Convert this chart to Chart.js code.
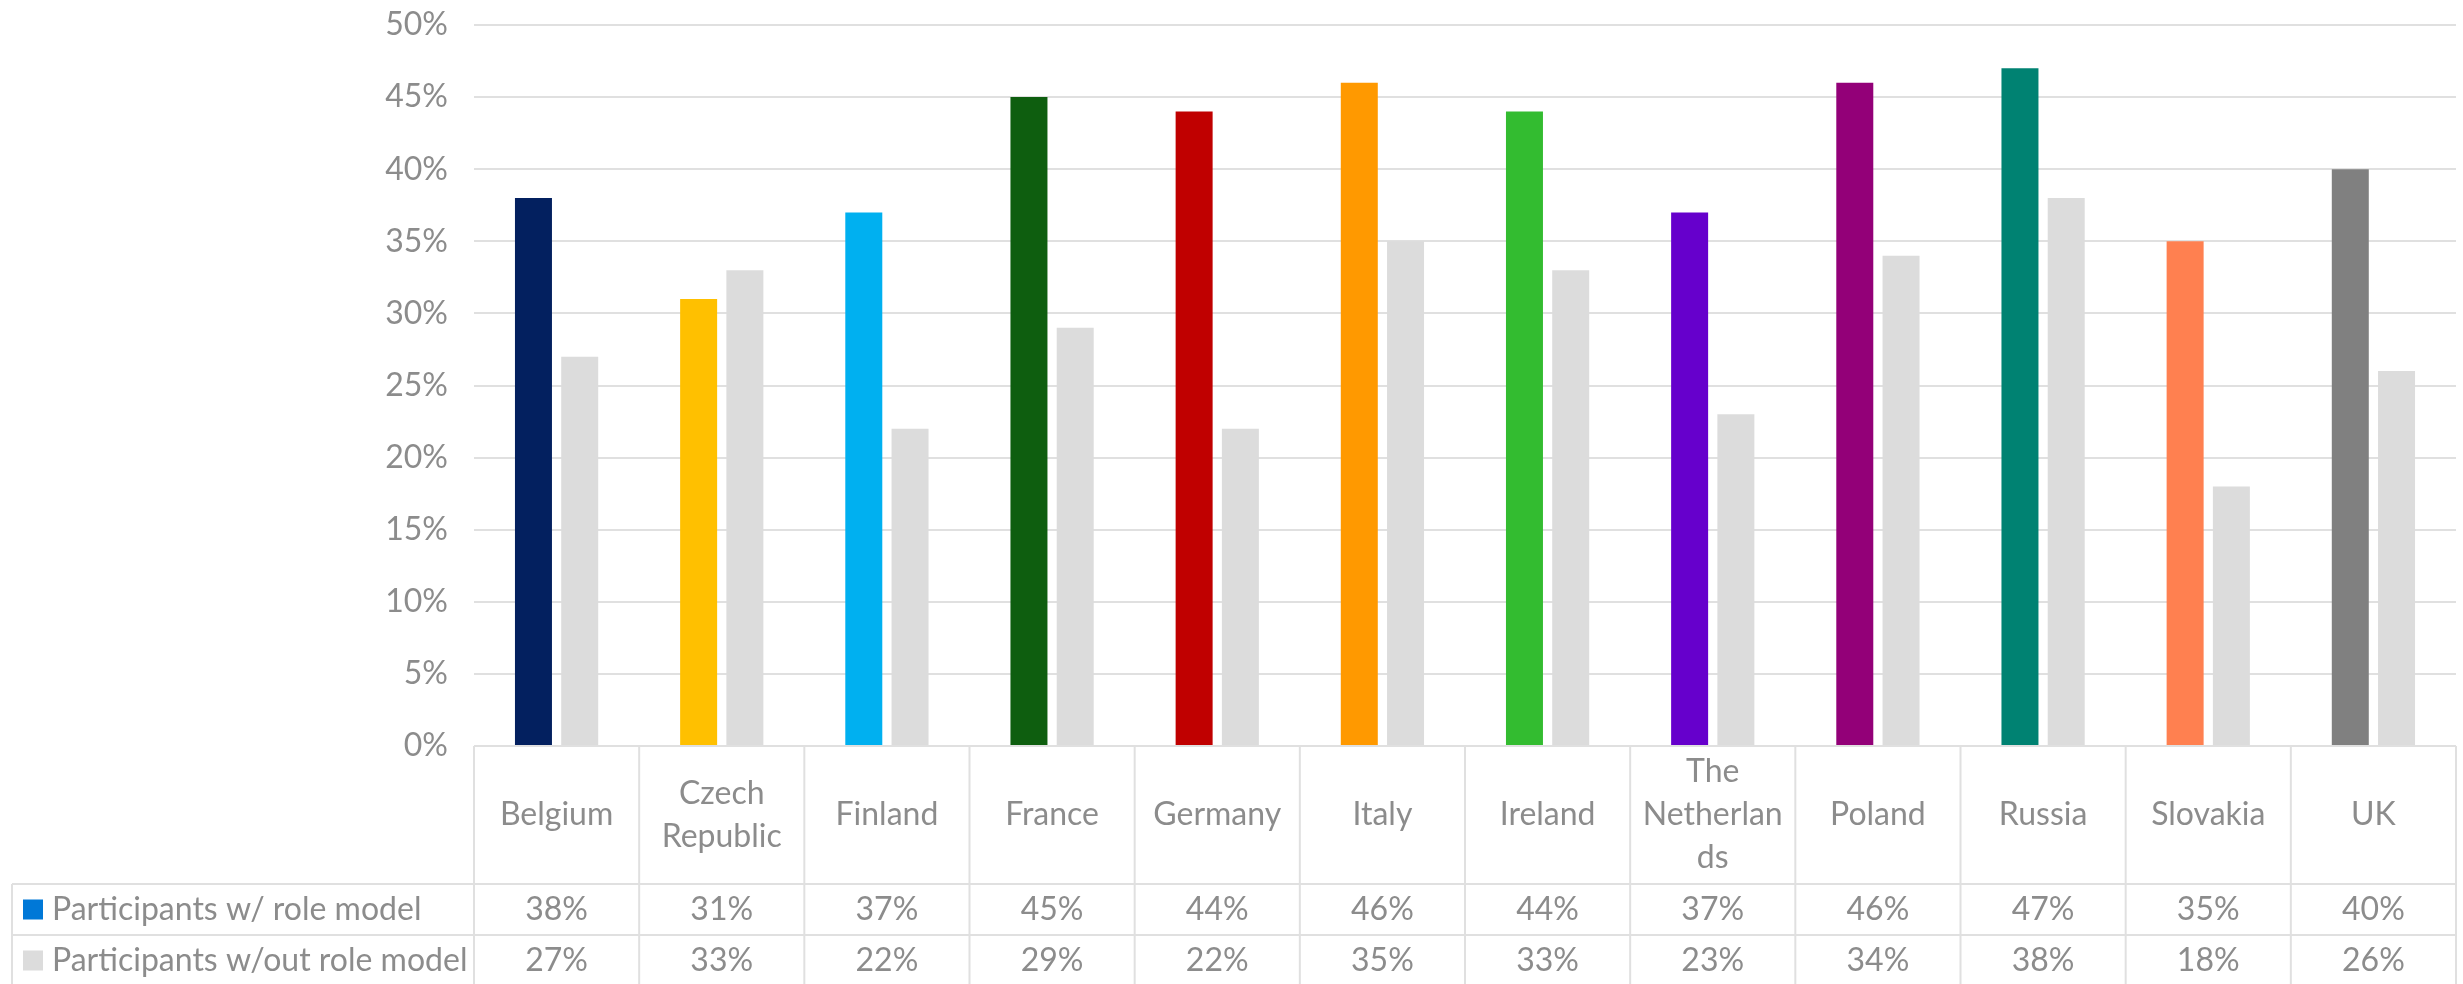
<!DOCTYPE html>
<html>
<head>
<meta charset="utf-8">
<script src="https://cdn.jsdelivr.net/npm/chart.js@4.4.0/dist/chart.umd.min.js"></script>
<style>
  html, body { margin: 0; padding: 0; background: #fff; }
  #wrap { width: 2463px; height: 984px; }
</style>
</head>
<body>
<div id="wrap"><canvas id="roleChart"></canvas></div>
<script>
// data
var countries = ['Belgium', ['Czech', 'Republic'], 'Finland', 'France', 'Germany', 'Italy',
	'Ireland', ['The', 'Netherlan', 'ds'], 'Poland', 'Russia', 'Slovakia', 'UK'];
var withRoleModel = [38, 31, 37, 45, 44, 46, 44, 37, 46, 47, 35, 40];
var withoutRoleModel = [27, 33, 22, 29, 22, 35, 33, 23, 34, 38, 18, 26];
var seriesNames = ['Participants w/ role model', 'Participants w/out role model'];
var yTicks = [0, 5, 10, 15, 20, 25, 30, 35, 40, 45, 50];

var countryColors = ['#03205F', '#FFC000', '#00B0F0', '#0E5E0F', '#C00000', '#FF9900',
	'#33BC30', '#6600CC', '#930078', '#008272', '#FF8050', '#808080'];
var legendColors = ['#0078D7', '#DCDCDC'];
var greyBar = '#DCDCDC';
var lineCol = '#E0E0E0';
var textCol = '#8C8C8C';
var fontFam = "Lato, 'Open Sans', sans-serif";
var fontSize = 32;

// table under the plot (Excel style data table)
var tablePlugin = {
	id: 'dataTable',
	afterDraw: function(chart) {
		var ctx = chart.ctx;
		var area = chart.chartArea;
		var x = chart.scales.x;
		var n = countries.length;
		var colW = (area.right - area.left) / n;
		var top = area.bottom;
		var catBottom = top + 138;
		var row1Bottom = catBottom + 51;
		var row2Bottom = row1Bottom + 51;
		var tableLeft = 12;

		ctx.save();
		ctx.strokeStyle = lineCol;
		ctx.lineWidth = 2;
		ctx.beginPath();
		// horizontal lines
		ctx.moveTo(area.left, top); ctx.lineTo(area.right, top);
		ctx.moveTo(tableLeft, catBottom); ctx.lineTo(area.right, catBottom);
		ctx.moveTo(tableLeft, row1Bottom); ctx.lineTo(area.right, row1Bottom);
		ctx.moveTo(tableLeft, row2Bottom); ctx.lineTo(area.right, row2Bottom);
		// vertical lines
		ctx.moveTo(tableLeft, catBottom); ctx.lineTo(tableLeft, row2Bottom);
		for (var i = 0; i <= n; i++) {
			var bx = (i < n) ? x.getPixelForValue(i) - colW / 2 : x.getPixelForValue(n - 1) + colW / 2;
			ctx.moveTo(bx, top); ctx.lineTo(bx, row2Bottom);
		}
		ctx.stroke();

		ctx.fillStyle = textCol;
		ctx.font = fontSize + 'px ' + fontFam;
		ctx.textAlign = 'center';
		ctx.textBaseline = 'middle';
		var lineH = 43;
		for (var i = 0; i < n; i++) {
			var cx = x.getPixelForValue(i);
			var lbl = Array.isArray(countries[i]) ? countries[i] : [countries[i]];
			var cy = (top + catBottom) / 2 - (lbl.length - 1) * lineH / 2;
			for (var j = 0; j < lbl.length; j++) {
				ctx.fillText(lbl[j], cx, cy + j * lineH);
			}
			ctx.fillText(withRoleModel[i] + '%', cx, (catBottom + row1Bottom) / 2);
			ctx.fillText(withoutRoleModel[i] + '%', cx, (row1Bottom + row2Bottom) / 2);
		}

		// legend keys inside the table
		ctx.textAlign = 'left';
		var rows = [(catBottom + row1Bottom) / 2, (row1Bottom + row2Bottom) / 2];
		for (var k = 0; k < 2; k++) {
			ctx.fillStyle = legendColors[k];
			ctx.fillRect(23, rows[k] - 10, 20, 20);
			ctx.fillStyle = textCol;
			ctx.fillText(seriesNames[k], 52, rows[k]);
		}
		ctx.restore();
	}
};

var ctx = document.getElementById('roleChart').getContext('2d');
var chart = new Chart(ctx, {
	type: 'bar',
	data: {
		labels: countries,
		datasets: [{
			label: seriesNames[0],
			data: withRoleModel,
			backgroundColor: countryColors,
			categoryPercentage: 0.56,
			barPercentage: 0.8
		}, {
			label: seriesNames[1],
			data: withoutRoleModel,
			backgroundColor: greyBar,
			categoryPercentage: 0.56,
			barPercentage: 0.8
		}]
	},
	options: {
		responsive: true,
		maintainAspectRatio: false,
		animation: false,
		devicePixelRatio: 1,
		layout: {
			padding: { top: 25, right: 7, bottom: 238, left: 0 }
		},
		plugins: {
			legend: { display: false },
			tooltip: { enabled: false }
		},
		scales: {
			x: {
				display: false
			},
			y: {
				min: 0,
				max: 50,
				afterBuildTicks: function(scale) {
					scale.ticks = yTicks.map(function(v) { return { value: v }; });
				},
				afterFit: function(scale) {
					scale.width = 474;
					// tick padding should not push the plot down
					scale.paddingTop = 0;
					scale.paddingBottom = 0;
				},
				border: { display: false },
				grid: { color: lineCol, lineWidth: 2, drawTicks: false },
				ticks: {
					padding: 26,
					color: textCol,
					font: { family: fontFam, size: fontSize },
					callback: function(v) { return v + '%'; }
				}
			}
		}
	},
	plugins: [tablePlugin]
});
</script>
</body>
</html>
